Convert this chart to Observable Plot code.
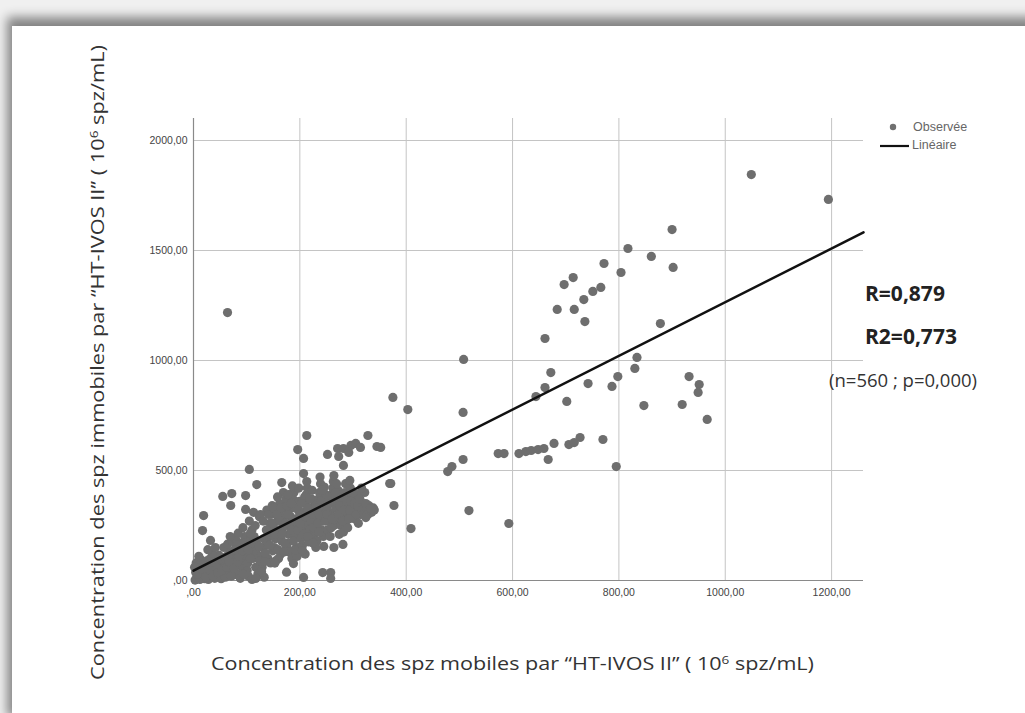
<!DOCTYPE html>
<html>
<head>
<meta charset="utf-8">
<script src="https://cdn.jsdelivr.net/npm/d3@7"></script>
<script src="https://cdn.jsdelivr.net/npm/@observablehq/plot@0.6"></script>
<style>
  html, body { margin: 0; padding: 0; background: #f0f0f0; }
  #page { position: relative; width: 1025px; height: 713px; overflow: hidden; background: #f0f0f0; }
  #card { position: absolute; left: 12px; top: 26px; width: 1030px; height: 700px; background: #fff;
          box-shadow: -5px -9px 10px rgba(0,0,0,0.45); }
  #chart { position: absolute; left: 0; top: 0; }
  .ann { position: absolute; font-family: "Open Sans", sans-serif; color: #222; white-space: nowrap; }
  .leg { position: absolute; font-family: "Liberation Sans", Arial, sans-serif; font-size: 12.5px; color: #666; white-space: nowrap; }
  #overlay { position: absolute; left: 0; top: 0; }
</style>
</head>
<body>
<div id="page">
  <div id="card"></div>
  <div id="chart"></div>
  <svg id="overlay" width="1025" height="713"></svg>
  <div class="leg" style="left:913px; top:120px;">Observée</div>
  <div class="leg" style="left:912px; top:138px;">Linéaire</div>
  <div class="ann" style="left:865px; top:279px; font-size:21px; font-weight:700;">R=0,879</div>
  <div class="ann" style="left:865px; top:322px; font-size:21px; font-weight:700;">R2=0,773</div>
  <div class="ann" style="left:829px; top:367px; font-size:18.5px; color:#333;">(n=560 ; p=0,000)</div>
</div>
<script>
// ---- Data (10^6 spz/mL): [mobiles, immobiles] ----
const denseCluster = [
  [3,2],[6,12],[9,25],[4,38],[12,5],[15,18],[18,30],[8,50],[14,44],[21,8],[24,22],[20,55],[11,70],[17,62],[25,40],[5,80],[22,75],[2,60],[26,90],[13,95],
  [28,5],[30,18],[33,35],[36,52],[29,65],[40,10],[42,28],[45,48],[38,78],[47,70],[32,100],[44,90],[48,115],[35,125],[50,20],[27,140],[41,150],
  [52,8],[55,30],[58,55],[60,75],[54,95],[62,110],[66,40],[68,130],[72,65],[70,90],[57,150],[74,115],[64,165],[73,180],[75,25],[60,15],
  [78,40],[80,70],[82,100],[85,125],[88,150],[90,170],[79,190],[92,60],[95,90],[98,115],[96,200],[84,215],[99,140],[87,30],[93,240],[81,160],[88,10],
  [102,80],[104,120],[106,160],[108,190],[110,230],[112,100],[115,140],[118,175],[117,60],[105,270],[124,290],[113,310],[101,45],[119,120],[103,20],[110,5],[121,30],
  [127,110],[130,150],[132,190],[138,320],[140,100],[142,200],[144,260],[146,300],[148,340],[129,60],[139,170],[147,230],[126,300],[149,135],[133,15],[128,40],
  [152,150],[154,190],[156,230],[158,270],[160,310],[162,350],[164,120],[166,180],[168,240],[170,290],[172,330],[174,370],[155,90],[161,210],[169,400],[175,150],[158,380],
  [177,170],[179,210],[181,250],[183,290],[185,330],[187,370],[189,400],[191,200],[193,240],[195,280],[197,320],[199,360],[180,130],[186,430],[194,150],[198,420],[182,390],[190,270],
  [202,190],[204,230],[206,270],[208,310],[210,350],[212,390],[214,420],[216,250],[218,290],[220,330],[222,370],[224,200],[205,160],[213,450],[219,230],[223,410],[209,380],[217,175],
  [227,210],[229,250],[231,290],[233,330],[235,370],[237,400],[239,440],[241,230],[243,270],[245,310],[247,350],[249,390],[232,180],[244,200],[238,470],[246,425],[228,360],
  [252,230],[254,270],[256,310],[258,350],[260,390],[262,420],[264,250],[266,290],[268,330],[270,370],[272,410],[274,210],[257,200],[263,450],[271,280],[255,380],[269,440],
  [277,250],[279,290],[281,330],[283,370],[285,400],[287,270],[289,310],[291,350],[293,390],[295,420],[297,300],[299,340],[282,220],[290,240],[298,380],[286,440],
  [302,320],[305,360],[308,390],[311,330],[314,300],[318,350],[322,400],[326,320],[330,340],[335,310],[304,280],[316,420],[338,330],[310,260]
];
const denseClusterFill = [
  [7,30],[16,52],[23,15],[31,45],[37,20],[43,60],[19,85],[34,85],[46,35],[10,110],
  [53,45],[59,100],[63,60],[67,85],[71,20],[76,55],[83,85],[86,110],[91,135],[94,30],[97,170],[77,140],[69,200],
  [103,140],[107,100],[111,170],[114,200],[116,250],[123,155],[125,90],[131,270],[135,125],[137,230],[141,300],[143,160],[145,80],[150,260],[107,215],
  [151,330],[153,210],[157,300],[159,140],[163,270],[165,330],[167,210],[171,170],[173,260],[176,340],[178,300],[184,230],[188,180],[192,330],[196,230],[200,300],[184,350],[178,390],
  [201,260],[203,350],[207,210],[211,290],[215,330],[219,370],[221,270],[225,300],[226,240],[230,330],[234,260],[236,300],[240,360],[242,410],[248,270],[250,330],[236,220],
  [251,300],[253,350],[259,240],[261,280],[265,360],[267,400],[273,300],[275,340],[278,380],[280,270],[284,320],[288,360],[292,280],[294,320],[296,360],[300,400],
  [303,350],[306,300],[309,340],[313,370],[317,320],[320,300],[324,350],[328,300],[333,330],[340,320],
  [160,100],[170,130],[185,100],[200,150],[215,200],[230,150],[210,120],[195,110],[225,170],[190,140]
];
const scatterNearCluster = [
  [105,505],[119,436],[55,382],[72,395],[70,341],[98,386],[98,323],[19,295],[17,227],[32,182],[166,445],[117,9],
  [213,659],[196,595],[207,555],[207,486],[328,659],[345,609],[252,573],[271,600],[282,600],[296,614],[305,623],[314,605],
  [292,582],[273,564],[282,523],[264,477],[294,455],[369,441],[333,327],[324,286],[245,155],[264,150],[281,164],[205,136],
  [188,77],[243,36],[258,36],[258,9],[207,14],[175,38],[153,79],[134,86],[352,605],[371,441],[377,341]
];
const midPoints = [
  [375,832],[403,777],[409,236],[478,495],[486,518],[507,550],[507,764],[518,318],[593,259],[508,1005],
  [573,577],[584,577],[612,577],[625,586],[635,591],[648,595],[659,600],[667,550],[678,623],[706,618],[716,627],[727,650],
  [770,641],[795,518],[644,836],[661,877],[672,945],[702,814],[742,895],[787,882],[798,927]
];
const highPoints = [
  [834,1014],[830,964],[847,795],[919,800],[932,927],[951,891],[949,855],[966,732],
  [661,1100],[684,1232],[716,1232],[697,1345],[714,1377],[734,1277],[736,1177],[751,1314],[766,1332],
  [772,1441],[804,1400],[817,1509],[861,1473],[902,1423],[900,1595],[878,1168],[1049,1845],[1194,1732],[64,1218]
];
// Linear fit
const fitIntercept = 45;
const fitSlope = 1.22;
const fitRange = [0, 1260];
// Axes
const xTicks = [0, 200, 400, 600, 800, 1000, 1200];
const yTicks = [0, 500, 1000, 1500, 2000];
const xDomain = [0, 1260];
const yDomain = [0, 2100];

const fmt = d => d === 0 ? ",00" : `${d},00`;
const points = [...denseCluster, ...denseClusterFill, ...scatterNearCluster, ...midPoints, ...highPoints];
const fitLine = fitRange.map(x => ({x, y: fitIntercept + fitSlope * x}));

const chart = Plot.plot({
  width: 1025,
  height: 713,
  marginLeft: 193,
  marginRight: 162,
  marginTop: 118,
  marginBottom: 133,
  style: {background: "none", fontFamily: "Liberation Sans, Arial, sans-serif", overflow: "visible"},
  x: {domain: xDomain},
  y: {domain: yDomain},
  marks: [
    Plot.gridX(xTicks.slice(1), {stroke: "#c4c4c4", strokeOpacity: 1}),
    Plot.gridY(yTicks.slice(1), {stroke: "#c4c4c4", strokeOpacity: 1}),
    Plot.ruleX([0], {stroke: "#8a8a8a", strokeWidth: 1.2}),
    Plot.ruleY([0], {stroke: "#8a8a8a", strokeWidth: 1.2}),
    Plot.dot(points, {x: d => d[0], y: d => d[1], r: 4.6, fill: "#6e6e6e", stroke: "none"}),
    Plot.line(fitLine, {x: "x", y: "y", stroke: "#111", strokeWidth: 2.5}),
    Plot.axisX(xTicks, {tickSize: 0, tickPadding: 8, tickFormat: fmt, fontSize: 10.5, fill: "#444", label: null}),
    Plot.axisY(yTicks, {tickSize: 0, tickPadding: 6, tickFormat: fmt, fontSize: 10.5, fill: "#444", label: null})
  ]
});
document.getElementById("chart").appendChild(chart);

// Legend symbols + axis titles
const ov = d3.select("#overlay");
ov.append("circle").attr("cx", 893).attr("cy", 127).attr("r", 3.2).attr("fill", "#707070");
ov.append("line").attr("x1", 880).attr("x2", 909).attr("y1", 146).attr("y2", 146).attr("stroke", "#111").attr("stroke-width", 2.2);

const xt = ov.append("text").attr("x", 211).attr("y", 670)
  .attr("font-family", "Open Sans, sans-serif").attr("font-size", 17.5).attr("fill", "#333")
  .attr("textLength", 603).attr("lengthAdjust", "spacingAndGlyphs");
xt.append("tspan").text("Concentration des spz mobiles par \u201CHT-IVOS II\u201D ( 10");
xt.append("tspan").attr("dy", -6).attr("font-size", 11).text("6");
xt.append("tspan").attr("dy", 6).text(" spz/mL)");

const yt = ov.append("text").attr("transform", "translate(104,680) rotate(-90)")
  .attr("font-family", "Open Sans, sans-serif").attr("font-size", 17.5).attr("fill", "#333")
  .attr("textLength", 635).attr("lengthAdjust", "spacingAndGlyphs");
yt.append("tspan").text("Concentration des spz immobiles par \u201CHT-IVOS II\u201D ( 10");
yt.append("tspan").attr("dy", -6).attr("font-size", 11).text("6");
yt.append("tspan").attr("dy", 6).text(" spz/mL)");
</script>
</body>
</html>
